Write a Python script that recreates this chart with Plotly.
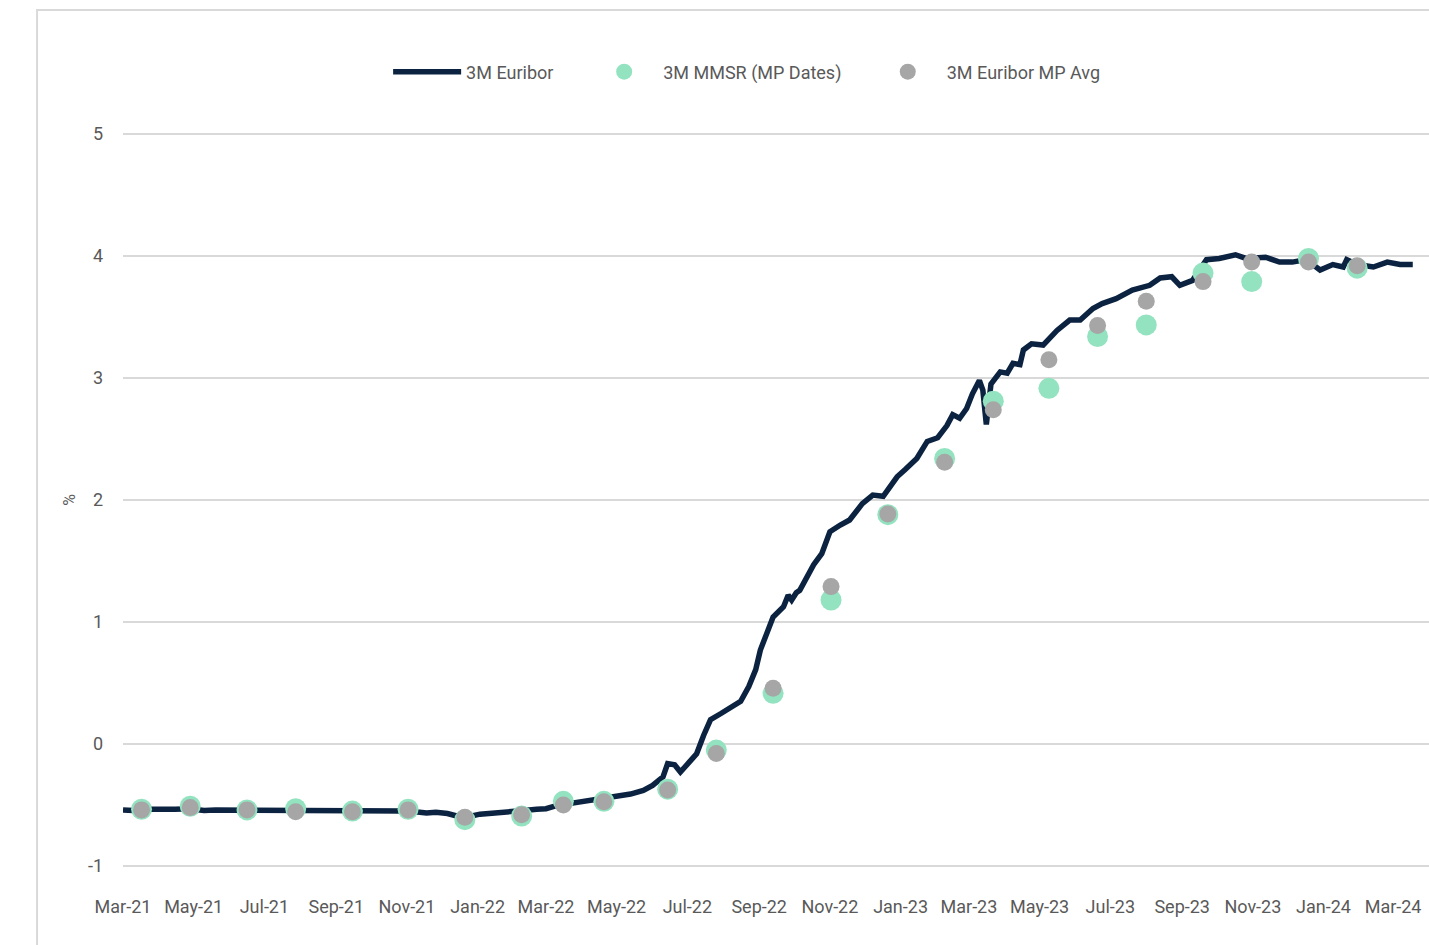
import plotly.graph_objects as go

# 3M Euribor (daily series)
euribor_dates = [
    "2021-03-01", "2021-03-10", "2021-03-22", "2021-04-05", "2021-04-15", "2021-04-27",
    "2021-05-10", "2021-05-20", "2021-06-01", "2021-06-10", "2021-06-22", "2021-07-05",
    "2021-07-15", "2021-07-28", "2021-08-10", "2021-08-25", "2021-09-08", "2021-09-20",
    "2021-10-01", "2021-10-15", "2021-10-28", "2021-11-08", "2021-11-18", "2021-11-26",
    "2021-12-06", "2021-12-14", "2021-12-22", "2022-01-03", "2022-01-12", "2022-01-20",
    "2022-01-31", "2022-02-10", "2022-02-21", "2022-03-01", "2022-03-10", "2022-03-21",
    "2022-03-31", "2022-04-11", "2022-04-22", "2022-05-03", "2022-05-13", "2022-05-24",
    "2022-06-01", "2022-06-10", "2022-06-14", "2022-06-20", "2022-06-25", "2022-07-03",
    "2022-07-09", "2022-07-15", "2022-07-21", "2022-07-30", "2022-08-08", "2022-08-16",
    "2022-08-23", "2022-08-29", "2022-09-02", "2022-09-09", "2022-09-13", "2022-09-22",
    "2022-09-26", "2022-09-29", "2022-10-03", "2022-10-06", "2022-10-18", "2022-10-25",
    "2022-11-01", "2022-11-10", "2022-11-18", "2022-11-29", "2022-12-08", "2022-12-17",
    "2022-12-29", "2023-01-05", "2023-01-15", "2023-01-24", "2023-02-02", "2023-02-10",
    "2023-02-15", "2023-02-21", "2023-02-27", "2023-03-04", "2023-03-10", "2023-03-13",
    "2023-03-15", "2023-03-16", "2023-03-20", "2023-03-25", "2023-03-28", "2023-04-03",
    "2023-04-08", "2023-04-14", "2023-04-17", "2023-04-24", "2023-05-04", "2023-05-16",
    "2023-05-27", "2023-06-05", "2023-06-16", "2023-06-24", "2023-07-06", "2023-07-20",
    "2023-08-04", "2023-08-13", "2023-08-23", "2023-08-30", "2023-09-10", "2023-09-22",
    "2023-10-03", "2023-10-17", "2023-10-26", "2023-11-12", "2023-11-24", "2023-12-05",
    "2023-12-17", "2023-12-29", "2024-01-09", "2024-01-18", "2024-01-21", "2024-01-30",
    "2024-02-13", "2024-02-25", "2024-03-07", "2024-03-18",
]
euribor_values = [
    -0.54, -0.545, -0.535, -0.54, -0.535, -0.53,
    -0.545, -0.54, -0.54, -0.545, -0.54, -0.545,
    -0.54, -0.55, -0.55, -0.55, -0.55, -0.55,
    -0.545, -0.55, -0.55, -0.555, -0.565, -0.56,
    -0.57, -0.59, -0.60, -0.575, -0.57, -0.565,
    -0.56, -0.545, -0.535, -0.53, -0.505, -0.49,
    -0.47, -0.46, -0.45, -0.43, -0.41, -0.38,
    -0.34, -0.27, -0.16, -0.17, -0.23, -0.145,
    -0.08, 0.07, 0.20, 0.25, 0.305, 0.35,
    0.47, 0.61, 0.77, 0.96, 1.04, 1.125,
    1.22, 1.18, 1.24, 1.26, 1.47, 1.56,
    1.74, 1.795, 1.836, 1.97, 2.04, 2.03,
    2.19, 2.25, 2.34, 2.48, 2.51, 2.61,
    2.70, 2.67, 2.75, 2.87, 2.98, 2.90,
    2.64, 2.62, 2.95, 3.02, 3.05, 3.04,
    3.12, 3.11, 3.23, 3.28, 3.27, 3.39,
    3.475, 3.475, 3.57, 3.61, 3.65, 3.72,
    3.76, 3.82, 3.83, 3.76, 3.80, 3.97,
    3.98, 4.01, 3.98, 3.99, 3.95, 3.95,
    3.97, 3.885, 3.93, 3.91, 3.97, 3.93,
    3.91, 3.95, 3.93, 3.93,
]

# ECB maintenance-period start dates
mp_dates = [
    "2021-03-17", "2021-04-28", "2021-06-16", "2021-07-28", "2021-09-15", "2021-11-02",
    "2021-12-21", "2022-02-08", "2022-03-16", "2022-04-20", "2022-06-14", "2022-07-26",
    "2022-09-13", "2022-11-02", "2022-12-21", "2023-02-08", "2023-03-22", "2023-05-09",
    "2023-06-20", "2023-08-01", "2023-09-19", "2023-10-31", "2023-12-19", "2024-01-30",
]
mmsr_values = [
    -0.535, -0.51, -0.54, -0.53, -0.55, -0.535,
    -0.62, -0.59, -0.47, -0.47, -0.37, -0.05,
    0.415, 1.18, 1.88, 2.34, 2.81, 2.915,
    3.34, 3.435, 3.86, 3.79, 3.98, 3.90,
]
mp_avg_values = [
    -0.54, -0.52, -0.54, -0.555, -0.555, -0.54,
    -0.60, -0.58, -0.50, -0.473, -0.377, -0.077,
    0.457, 1.29, 1.885, 2.31, 2.74, 3.15,
    3.43, 3.63, 3.79, 3.95, 3.95, 3.92,
]

# y axis
y_min, y_max = -1, 5
y_ticks = [-1, 0, 1, 2, 3, 4, 5]
y_ticktext = ["-1", "0", "1", "2", "3", "4", "5"]

FONT = "Roboto, Lato, sans-serif"
GREY_TEXT = "#595959"
GRID = "#d9d9d9"
NB = "\u00a0"

fig = go.Figure()
fig.add_trace(go.Scatter(
    x=euribor_dates, y=euribor_values, mode="lines", name="3M Euribor" + NB * 6,
    line=dict(color="#0b2341", width=5.5),
))
fig.add_trace(go.Scatter(
    x=mp_dates, y=mmsr_values, mode="markers", name="3M MMSR (MP Dates)" + NB * 5,
    marker=dict(color="#93e3c0", size=21),
))
fig.add_trace(go.Scatter(
    x=mp_dates, y=mp_avg_values, mode="markers", name="3M Euribor MP Avg",
    marker=dict(color="#a6a6a6", size=17),
))

# pad the range by 2 px each side so the edge gridlines are drawn
eps = 2 / 122
yr = [y_min - eps, y_max + eps]
zero_pos = (0 - yr[0]) / (yr[1] - yr[0])

fig.update_layout(
    width=1429, height=945,
    margin=dict(l=123, r=0, t=132, b=77),
    paper_bgcolor="white", plot_bgcolor="white",
    font=dict(family=FONT, color=GREY_TEXT, size=18),
    showlegend=True,
    legend=dict(
        orientation="h", x=0.203, xanchor="left", y=1.0815, yanchor="middle",
        font=dict(size=18, color=GREY_TEXT), itemwidth=68,
        bgcolor="rgba(0,0,0,0)",
    ),
    xaxis=dict(
        type="date", range=["2021-03-01", "2024-04-01"],
        tick0="2021-03-01", dtick="M2", tickformat="%b-%y",
        showgrid=False, zeroline=False, showline=False, ticks="",
        ticklabelstandoff=26, tickfont=dict(size=18, color=GREY_TEXT),
    ),
    xaxis2=dict(
        matches="x", overlaying="x", anchor="free", position=zero_pos,
        showticklabels=False, showgrid=False, zeroline=False,
        showline=True, linecolor=GRID, linewidth=2,
        ticks="outside", ticklen=10, tickcolor=GRID, tickwidth=2,
        tick0="2021-03-01", dtick="M2", type="date",
    ),
    yaxis=dict(
        range=yr, tickvals=y_ticks, ticktext=y_ticktext,
        showgrid=True, gridcolor=GRID, gridwidth=2,
        zeroline=False, showline=False, ticks="",
        ticklabelstandoff=19, tickfont=dict(size=18, color=GREY_TEXT),
        title=dict(text="%", font=dict(size=16, color=GREY_TEXT), standoff=8),
    ),
    shapes=[dict(
        type="rect", xref="paper", yref="paper",
        x0=-0.0658, x1=1.02, y0=-0.2, y1=1.1658,
        line=dict(color=GRID, width=2), fillcolor="rgba(0,0,0,0)", layer="below",
    )],
)

fig.write_html(
    "out.html",
    config={"displayModeBar": False},
    post_script="document.body.style.margin='0px';document.body.style.overflow='hidden';",
)
